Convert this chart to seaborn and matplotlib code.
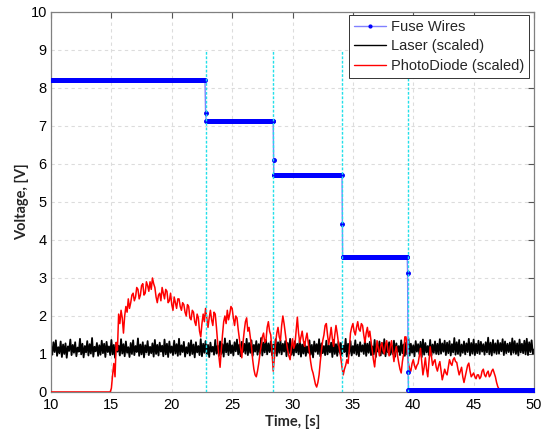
import numpy as np
import pandas as pd
import matplotlib
matplotlib.use("Agg")
import matplotlib.pyplot as plt
import seaborn as sns
from matplotlib.lines import Line2D

# ---- Fuse wire voltage: constant plateaus between burn-through events ----
fuse_level_start = [10.00, 22.85, 28.45, 34.15, 39.60]
fuse_level_end = [22.75, 28.40, 34.10, 39.50, 50.00]
fuse_levels = [8.22, 7.14, 5.70, 3.54, 0.04]
fuse_step_t = [22.80, 28.43, 34.13, 39.53, 39.57]
fuse_step_v = [7.34, 6.10, 4.42, 3.14, 0.53]
fuse_sample_dt = 0.05

# burn-through instants (cyan markers)
burn_times = [22.80, 28.42, 34.12, 39.55]

# ---- Laser (scaled), in centivolts, sampled every 0.1 s from 10 s to 50 s ----
laser_t0, laser_dt = 10.0, 0.1
laser_cV = [
    122, 98, 131, 105, 136, 95, 118, 102, 133, 92,
    125, 100, 128, 90, 120, 108, 138, 97, 124, 103,
    131, 94, 117, 106, 140, 99, 127, 91, 121, 104,
    134, 96, 126, 101, 142, 93, 119, 107, 129, 95,
    123, 98, 135, 102, 127, 92, 132, 105, 120, 97,
    137, 99, 124, 90, 130, 106, 122, 96, 139, 101,
    126, 94, 133, 103, 118, 92, 129, 100, 136, 97,
    121, 105, 141, 95, 125, 99, 131, 91, 123, 104,
    134, 97, 119, 102, 128, 93, 137, 100, 124, 96,
    130, 106, 122, 94, 138, 99, 127, 92, 133, 103,
    120, 97, 135, 101, 126, 95, 140, 98, 123, 105,
    132, 93, 118, 102, 129, 96, 136, 100, 125, 91,
    131, 104, 121, 97, 139, 94, 127, 103, 134, 99,
    124, 92, 130, 106, 119, 98, 137, 101, 122, 95,
    133, 100, 126, 93, 141, 104, 128, 97, 135, 102,
    123, 96, 131, 107, 138, 99, 125, 94, 132, 105,
    127, 101, 140, 97, 129, 103, 136, 95, 124, 106,
    134, 98, 126, 102, 142, 96, 130, 104, 137, 99,
    128, 105, 133, 97, 125, 101, 139, 95, 131, 103,
    136, 99, 127, 106, 134, 94, 129, 102, 140, 98,
    122, 96, 134, 104, 127, 99, 138, 93, 125, 101,
    131, 95, 120, 103, 136, 98, 124, 91, 133, 106,
    126, 100, 139, 94, 128, 102, 121, 97, 135, 99,
    123, 104, 130, 92, 137, 100, 126, 95, 132, 103,
    129, 97, 122, 105, 140, 93, 127, 101, 134, 96,
    121, 102, 136, 98, 125, 94, 131, 106, 123, 100,
    138, 95, 127, 103, 132, 97, 120, 99, 137, 92,
    124, 106, 133, 96, 129, 101, 139, 94, 126, 104,
    131, 98, 122, 100, 135, 93, 128, 105, 121, 97,
    136, 102, 125, 95, 130, 99, 141, 96, 127, 103,
    123, 94, 134, 106, 126, 100, 132, 92, 138, 98,
    129, 104, 121, 97, 137, 95, 125, 103, 133, 100,
    127, 99, 139, 101, 128, 106, 135, 97, 130, 102,
    134, 96, 126, 104, 142, 98, 131, 100, 137, 95,
    125, 103, 133, 99, 128, 105, 140, 96, 129, 101,
    138, 97, 127, 102, 135, 100, 132, 106, 126, 98,
    131, 104, 143, 99, 130, 96, 137, 103, 128, 100,
    136, 101, 129, 107, 139, 97, 133, 102, 127, 105,
    130, 98, 141, 103, 134, 100, 128, 96, 138, 104,
    127, 102, 135, 99, 140, 97, 131, 105, 136, 101,
    112,
]

# ---- Photodiode (scaled): dark until ignition, then sampled every 0.1 s ----
pd_dark_t = [10.0, 14.9]
pd_dark_v = [0.0, 0.0]
pd_t0, pd_dt = 15.0, 0.1
photodiode = [
    0.10, 0.45, 0.75, 0.40, 1.30, 1.10, 2.05, 1.80, 2.15, 1.95,
    1.55, 2.00, 2.25, 2.10, 2.45, 2.20, 2.35, 2.55, 2.60, 2.40,
    2.50, 2.75, 2.70, 2.45, 2.55, 2.80, 2.85, 2.55, 2.60, 2.90,
    2.80, 2.65, 2.90, 2.70, 3.00, 2.85, 2.75, 2.50, 2.35, 2.55,
    2.60, 2.40, 2.75, 2.60, 2.45, 2.70, 2.65, 2.35, 2.40, 2.60,
    2.30, 2.15, 2.50, 2.35, 2.20, 2.45, 2.45, 2.25, 2.15, 2.35,
    2.30, 2.10, 2.00, 2.30, 2.25, 1.95, 1.90, 2.15, 2.10, 1.85,
    1.75, 2.05, 1.95, 1.60, 1.45, 1.80, 2.05, 1.85, 2.20, 1.95,
    1.70, 1.95, 2.15, 1.90, 1.75, 2.10, 2.05, 1.70, 1.30, 0.95,
    0.65, 1.10, 1.50, 1.85, 2.00, 1.80, 2.15, 1.90, 2.05, 2.25,
    2.20, 1.95, 1.75, 2.00, 1.95, 1.65, 1.40, 1.15, 0.90, 1.30,
    1.60, 1.85, 1.95, 1.60, 1.70, 1.45, 1.20, 0.85, 0.60, 0.45,
    0.40, 0.55, 0.75, 1.00, 1.20, 1.45, 1.55, 1.30, 1.35, 1.70,
    1.85, 1.60, 1.50, 1.05, 0.55, 0.90, 1.30, 1.55, 1.70, 1.45,
    1.35, 1.75, 2.00, 1.80, 1.55, 1.30, 1.10, 0.95, 0.85, 1.15,
    1.40, 1.15, 1.25, 1.60, 1.97, 1.55, 1.30, 1.45, 1.60, 1.35,
    1.20, 1.40, 1.55, 1.30, 1.05, 0.80, 0.60, 0.50, 0.35, 0.20,
    0.13, 0.25, 0.45, 0.80, 1.10, 1.35, 1.50, 1.75, 1.80, 1.50,
    1.25, 1.45, 1.70, 1.40, 1.20, 1.50, 1.75, 1.55, 1.30, 1.10,
    0.90, 0.65, 0.45, 0.60, 0.70, 0.85, 0.75, 1.10, 1.55, 1.70,
    1.80, 1.60, 1.50, 1.70, 1.85, 1.65, 1.60, 1.80, 1.75, 1.50,
    1.30, 1.55, 1.70, 1.45, 1.60, 1.35, 1.10, 0.85, 0.66, 1.00,
    1.35, 1.15, 0.95, 1.20, 1.30, 1.10, 1.00, 1.25, 1.35, 1.10,
    0.95, 1.20, 1.35, 1.05, 0.80, 1.05, 1.20, 0.95, 0.76, 0.60,
    0.50, 0.80, 1.00, 1.45, 1.45, 1.05, 0.75, 0.60, 0.55, 0.75,
    0.85, 0.70, 0.60, 0.70, 0.75, 0.95, 1.15, 0.80, 0.45, 0.65,
    0.90, 0.60, 0.40, 0.80, 1.19, 0.95, 0.70, 0.80, 0.85, 0.65,
    0.55, 0.70, 0.80, 0.55, 0.32, 0.45, 0.60, 0.50, 0.45, 0.65,
    0.85, 0.75, 0.70, 0.85, 0.90, 0.80, 0.78, 0.60, 0.45, 0.55,
    0.65, 0.40, 0.25, 0.40, 0.55, 0.70, 0.76, 0.55, 0.40, 0.45,
    0.50, 0.40, 0.35, 0.45, 0.45, 0.35, 0.40, 0.55, 0.60, 0.45,
    0.40, 0.50, 0.55, 0.40, 0.45, 0.55, 0.60, 0.50, 0.40, 0.25,
    0.14, 0.08, 0.05, 0.03, 0.02,
]
pd_tail_t = [50.0]
pd_tail_v = [0.02]

x_ticks = [10, 15, 20, 25, 30, 35, 40, 45, 50]
y_ticks = [0, 1, 2, 3, 4, 5, 6, 7, 8, 9, 10]

# ---- assemble tables ----
fuse_t, fuse_v = [], []
for i, (a, b, lvl) in enumerate(zip(fuse_level_start, fuse_level_end, fuse_levels)):
    ts = np.arange(a, b + 1e-9, fuse_sample_dt)
    fuse_t.extend(ts)
    fuse_v.extend([lvl] * len(ts))
    nxt = fuse_level_start[i + 1] if i + 1 < len(fuse_level_start) else np.inf
    for st, sv in zip(fuse_step_t, fuse_step_v):
        if b < st < nxt:
            fuse_t.append(st)
            fuse_v.append(sv)
fuse_df = pd.DataFrame({"t": fuse_t, "v": fuse_v})

laser_df = pd.DataFrame({"t": laser_t0 + laser_dt * np.arange(len(laser_cV)),
                         "v": np.array(laser_cV) / 100.0})

pd_t = pd_dark_t + list(pd_t0 + pd_dt * np.arange(len(photodiode))) + pd_tail_t
pd_v = pd_dark_v + photodiode + pd_tail_v
pd_df = pd.DataFrame({"t": pd_t, "v": pd_v})

# ---- figure ----
sns.set_theme(style="white")
plt.rcParams["font.family"] = ["Liberation Sans", "DejaVu Sans"]

fig = plt.figure(figsize=(5.41, 4.34), dpi=100)
ax = fig.add_axes([0.0943, 0.0968, 0.8928, 0.8756])

sns.lineplot(data=laser_df, x="t", y="v", ax=ax, color="black", lw=1.3,
             estimator=None, sort=False, zorder=2, legend=False)
sns.lineplot(data=pd_df, x="t", y="v", ax=ax, color="red", lw=1.1,
             estimator=None, sort=False, zorder=3, legend=False)
sns.lineplot(data=fuse_df, x="t", y="v", ax=ax, color="#8080ff", lw=1.0,
             marker=".", markersize=5.5, markerfacecolor="blue", markeredgecolor="blue",
             estimator=None, sort=False, zorder=4, legend=False)

for bt in burn_times:
    ax.plot([bt, bt], [0, 9], color="#22e0ea", lw=1.0, ls=(0, (2, 1.2)), zorder=5)

ax.set_xlim(10, 50)
ax.set_ylim(0, 10)
ax.set_xticks(x_ticks)
ax.set_yticks(y_ticks)
ax.tick_params(axis="both", which="major", direction="in", length=4, width=0.8,
               color="#555555", labelsize=10.5, labelcolor="black",
               top=True, right=True)
ax.tick_params(axis="x", pad=4.5)
ax.tick_params(axis="y", pad=3)
ax.grid(True, color="#dcdcdc", lw=0.8, ls=(0, (3, 3)))
for s in ax.spines.values():
    s.set_color("#808080")
    s.set_linewidth(0.9)

ax.set_xlabel("Time, [s]", fontsize=10.5, fontweight="bold",
              family=["Lato", "DejaVu Sans"], labelpad=2)
ax.set_ylabel("Voltage, [V]", fontsize=10.5, fontweight="bold",
              family=["Lato", "DejaVu Sans"], labelpad=1)

handles = [
    Line2D([], [], color="#8080ff", lw=1.0, marker=".", markersize=4,
           markerfacecolor="blue", markeredgecolor="blue"),
    Line2D([], [], color="black", lw=1.0),
    Line2D([], [], color="red", lw=1.0),
]
leg = ax.legend(handles, ["Fuse Wires", "Laser (scaled)", "PhotoDiode (scaled)"],
                loc="upper right", bbox_to_anchor=(0.99, 0.993), fontsize=10.5,
                frameon=True, fancybox=False, framealpha=1, edgecolor="#333333",
                borderpad=0.35, labelspacing=0.38, handlelength=2.2, handletextpad=0.3,
                borderaxespad=0.0)
leg.get_frame().set_linewidth(0.7)
leg.set_zorder(10)

fig.savefig("out.png", dpi=100)
